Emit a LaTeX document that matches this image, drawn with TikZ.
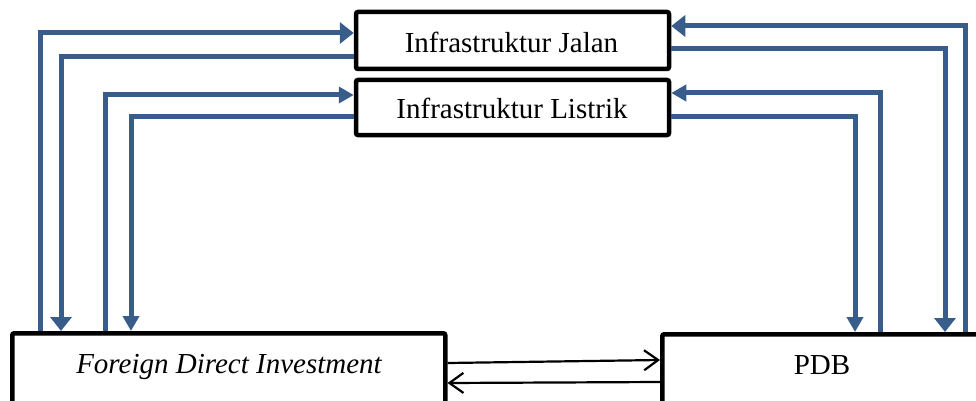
\documentclass[tikz,border=0pt]{standalone}
\usepackage{fontspec}
\setmainfont{Liberation Serif}
\usetikzlibrary{arrows.meta,calc}
\definecolor{linkblue}{RGB}{56,93,138}
\tikzset{
  box/.style={draw=black, line width=4.5pt, rounded corners=2pt, fill=white, inner sep=0pt},
  nodetext/.style={font=\fontsize{29}{34}\selectfont, inner sep=0pt, anchor=base},
  link/.style={draw=linkblue, line width=5pt},
  bigtip/.style={-{Triangle[length=14pt,width=21pt]}},
  smalltip/.style={-{Triangle[length=15pt,width=16pt]}},
  flow/.style={draw=black, line width=2.2pt, -{Straight Barb[length=14pt,width=20pt]}}
}
\begin{document}
\begin{tikzpicture}[x=1pt,y=-1pt]
\useasboundingbox (0,0) rectangle (976,401);
\clip (0,0) rectangle (976,401);

% boxes
\node[box, minimum width=313pt, minimum height=57pt] (jalan) at (512.5,40.5) {};
\node[box, minimum width=313pt, minimum height=55pt] (listrik) at (512.5,107.5) {};
\node[box, minimum width=433pt, minimum height=120pt, anchor=north west] (fdi) at (10,331) {};
\node[box, minimum width=400pt, minimum height=120pt, anchor=north west] (pdb) at (660,332) {};

% texts
\node[nodetext] (jalantext) at (511.5,53) {Infrastruktur Jalan};
\node[nodetext] (listriktext) at (512,118) {Infrastruktur Listrik};
\node[nodetext] (fditext) at (229,373) {\itshape Foreign Direct Investment};
\node[nodetext] (pdbtext) at (822,374) {PDB};

% links on the left
\draw[link, bigtip] ($(fdi.north west)+(30,0)$) |- ([yshift=7.5pt]jalan.west);
\draw[link, bigtip] ([yshift=-16.5pt]jalan.west) -| ($(fdi.north west)+(51,0)$);
\draw[link, smalltip] ($(fdi.north west)+(95,0)$) |- ([yshift=12.5pt]listrik.west);
\draw[link, smalltip] ([yshift=-9.5pt]listrik.west) -| ($(fdi.north west)+(121,0)$);

% links on the right
\draw[link, bigtip] ($(pdb.north west)+(305,0)$) |- ([yshift=14.5pt]jalan.east);
\draw[link, bigtip] ([yshift=-8.5pt]jalan.east) -| ($(pdb.north west)+(285,0)$);
\draw[link, smalltip] ($(pdb.north west)+(220,0)$) |- ([yshift=14.5pt]listrik.east);
\draw[link, smalltip] ([yshift=-9.5pt]listrik.east) -| ($(pdb.north west)+(195,0)$);

% two-way flow between FDI and PDB
\draw[flow] ($(fdi.north east)+(0,32)$) -- ($(pdb.north west)+(0,28)$);
\draw[flow] ($(pdb.north west)+(0,50)$) -- ($(fdi.north east)+(0,52)$);
\end{tikzpicture}
\end{document}
